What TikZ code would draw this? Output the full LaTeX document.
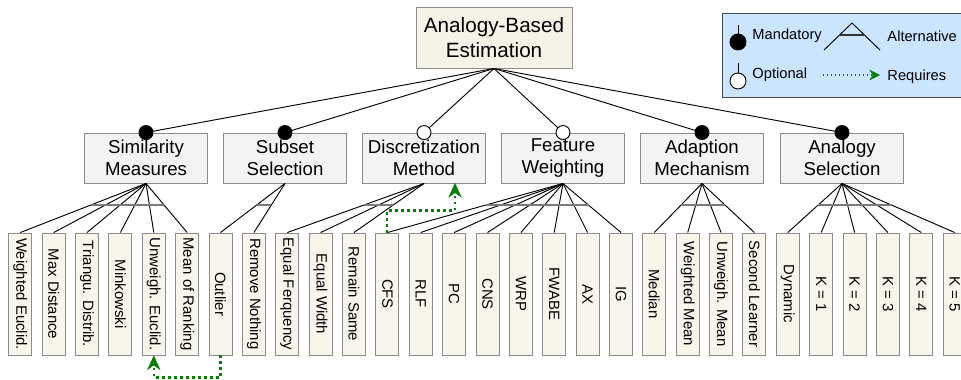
\documentclass[tikz,border=0pt]{standalone}
\usepackage{fontspec}
\setmainfont{Liberation Sans}
\usetikzlibrary{positioning, arrows.meta, calc}
\definecolor{boxline}{HTML}{8C8C8C}
\definecolor{rootfill}{HTML}{F5F2E8}
\definecolor{featfill}{HTML}{F3F3F3}
\definecolor{leaffill}{HTML}{F7F5EC}
\definecolor{bargray}{HTML}{7A7A7A}
\definecolor{reqgreen}{HTML}{0A7A0A}
\definecolor{legendfill}{HTML}{CCE5FF}
\definecolor{legendline}{HTML}{4A4D52}
\newcommand{\vtext}[1]{\rotatebox{-90}{#1}}

\begin{document}
\begin{tikzpicture}[
    >={Stealth[length=11pt, width=10pt, line width=0.2pt, fill=reqgreen]},
    yscale=-1,
    x=0.75pt,
    y=0.75pt,
    line width=0.7pt,
    rootbox/.style={draw=boxline, fill=rootfill, minimum width=117pt, minimum height=45.75pt, align=center, inner sep=0pt, font=\fontsize{15.5}{19}\selectfont},
    featbox/.style={draw=boxline, fill=featfill, minimum width=92.25pt, minimum height=37.5pt, align=center, inner sep=0pt, font=\fontsize{14}{16.5}\selectfont},
    leaf/.style={draw=boxline, fill=leaffill, minimum width=17.25pt, minimum height=91.5pt, inner sep=0pt, font=\fontsize{11.2}{13}\selectfont},
    mand/.style={circle, draw, fill=black, minimum size=10.5pt, inner sep=0pt},
    opt/.style={mand, fill=white},
    altbar/.style={draw=bargray, line width=1.5pt},
    req/.style={->, draw=reqgreen, line width=1.6pt, dash pattern=on 1.6pt off 2.9pt},
    legend/.style={draw=legendline, fill=legendfill, minimum width=183pt, minimum height=63pt},
    legtext/.style={anchor=west, inner sep=0pt, font=\fontsize{11}{13}\selectfont}
]
    \useasboundingbox (0,0) rectangle (961,379);

    % root and features
    \node[rootbox] (abe) at (494,37.5) {Analogy-Based\\Estimation};
    \node[featbox] (sm) at (146,158) {Similarity\\Measures};
    \node[featbox] (ss) at (285,158) {Subset\\Selection};
    \node[featbox] (dm) at (424,158) {Discretization\\Method};
    \node[featbox] (fw) at (563,158) {Feature\\Weighting};
    \node[featbox] (am) at (702,158) {Adaption\\Mechanism};
    \node[featbox] (as) at (842,158) {Analogy\\Selection};

    % leaves
    \node[leaf] (we) at (20.3,294) {\vtext{Weighted Euclid.}};
    \node[leaf] (md) at (53.7,294) {\vtext{Max Distance}};
    \node[leaf] (td) at (87.0,294) {\vtext{Triangu. Distrib.}};
    \node[leaf] (mk) at (120.4,294) {\vtext{Minkowski}};
    \node[leaf] (ue) at (153.8,294) {\vtext{Unweigh. Euclid.}};
    \node[leaf] (mr) at (187.2,294) {\vtext{Mean of Ranking}};
    \node[leaf] (ol) at (220.5,294) {\vtext{Outlier}};
    \node[leaf] (rn) at (253.9,294) {\vtext{Remove Nothing}};
    \node[leaf] (ef) at (287.3,294) {\vtext{Equal Ferquency}};
    \node[leaf] (ew) at (320.6,294) {\vtext{Equal Width}};
    \node[leaf] (rs) at (354.0,294) {\vtext{Remain Same}};
    \node[leaf] (cfs) at (387.4,294) {\vtext{CFS}};
    \node[leaf] (rlf) at (420.7,294) {\vtext{RLF}};
    \node[leaf] (pc) at (454.1,294) {\vtext{PC}};
    \node[leaf] (cns) at (487.5,294) {\vtext{CNS}};
    \node[leaf] (wrp) at (520.9,294) {\vtext{WRP}};
    \node[leaf] (fwabe) at (554.2,294) {\vtext{FWABE}};
    \node[leaf] (ax) at (587.6,294) {\vtext{AX}};
    \node[leaf] (ig) at (621.0,294) {\vtext{IG}};
    \node[leaf] (med) at (654.3,294) {\vtext{Median}};
    \node[leaf] (wm) at (687.7,294) {\vtext{Weighted Mean}};
    \node[leaf] (um) at (721.1,294) {\vtext{Unweigh. Mean}};
    \node[leaf] (sl) at (754.4,294) {\vtext{Second Learner}};
    \node[leaf] (dyn) at (787.8,294) {\vtext{Dynamic}};
    \node[leaf] (k1) at (821.2,294) {\vtext{K = 1}};
    \node[leaf] (k2) at (854.6,294) {\vtext{K = 2}};
    \node[leaf] (k3) at (887.9,294) {\vtext{K = 3}};
    \node[leaf] (k4) at (921.3,294) {\vtext{K = 4}};
    \node[leaf] (k5) at (954.7,294) {\vtext{K = 5}};

    % root to features
    \draw (abe.south) edge (sm.north) edge (ss.north) edge (dm.north)
        edge (fw.north) edge (am.north) edge (as.north);
    \node[mand] at (sm.north) {};
    \node[mand] at (ss.north) {};
    \node[opt] at (dm.north) {};
    \node[opt] at (fw.north) {};
    \node[mand] at (am.north) {};
    \node[mand] at (as.north) {};

    % features to leaves
    \draw (sm.south) edge (we.north) edge (md.north) edge (td.north)
        edge (mk.north) edge (ue.north) edge (mr.north);
    \draw (ss.south) edge (ol.north) edge (rn.north);
    \draw (dm.south) edge (ef.north) edge (ew.north) edge (rs.north);
    \draw (fw.south) edge (cfs.north) edge (rlf.north) edge (pc.north) edge (cns.north)
        edge (wrp.north) edge (fwabe.north) edge (ax.north) edge (ig.north);
    \draw (am.south) edge (med.north) edge (wm.north) edge (um.north) edge (sl.north);
    \draw (as.south) edge (dyn.north) edge (k1.north) edge (k2.north)
        edge (k3.north) edge (k4.north) edge (k5.north);

    % alternative bars
    \draw[altbar] ($(sm.south)!0.44!(we.north)$) -- ($(sm.south)!0.44!(mr.north)$);
    \draw[altbar] ($(ss.south)!0.44!(ol.north)$) -- ($(ss.south)!0.44!(rn.north)$);
    \draw[altbar] ($(dm.south)!0.44!(ef.north)$) -- ($(dm.south)!0.44!(rs.north)$);
    \draw[altbar] ($(fw.south)!0.44!(cfs.north)$) -- ($(fw.south)!0.44!(ig.north)$);
    \draw[altbar] ($(am.south)!0.44!(med.north)$) -- ($(am.south)!0.44!(sl.north)$);
    \draw[altbar] ($(as.south)!0.44!(dyn.north)$) -- ($(as.south)!0.44!(k5.north)$);

    % requires
    \coordinate (dm-in) at (455,183);
    \draw[req] (cfs.north) -- ++(0,-22) -| (dm-in);
    \draw[req] (ol.south) -- ++(0,22) -| (ue.south);

    % legend
    \node[legend] (leg) at (844,55) {};
    \node[mand, minimum size=12pt] (lm) at (738,42) {};
    \draw (lm.north) -- ++(0,-9);
    \node[legtext] (lm-t) at (752,36) {Mandatory};
    \node[opt, minimum size=12pt] (lo) at (738,81) {};
    \draw (lo.north) -- ++(0,-10);
    \node[legtext] (lo-t) at (752,75) {Optional};
    \draw (824,50) -- (852,23) -- (880,50);
    \draw[draw=black!80, line width=1pt] (840,35) -- (864,35);
    \node[legtext] (la-t) at (887,36) {Alternative};
    \coordinate (lr-a) at (823,75);
    \coordinate (lr-b) at (880,75);
    \draw[req, line width=1.1pt, dash pattern=on 1.1pt off 1.9pt, -{Stealth[length=8pt, width=8pt, line width=0.2pt, fill=reqgreen]}] (lr-a) -- (lr-b);
    \node[legtext] (lr-t) at (887,77) {Requires};
\end{tikzpicture}
\end{document}
